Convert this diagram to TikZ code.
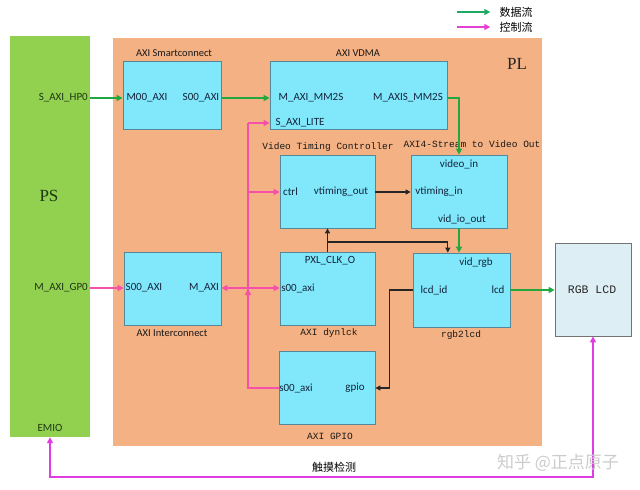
\documentclass[tikz,border=0pt]{standalone}
\usepackage{fontspec}
\setmainfont{Liberation Serif}
\newfontfamily\calfont{Carlito}
\newfontfamily\monofont{Liberation Mono}
\newfontfamily\cjkfont{Noto Sans CJK SC}
\usetikzlibrary{arrows.meta,shadows,calc}
\definecolor{psgreen}{RGB}{146,208,80}
\definecolor{plorange}{RGB}{244,177,131}
\definecolor{boxcyan}{RGB}{128,232,250}
\definecolor{boxedge}{RGB}{85,135,155}
\definecolor{dgreen}{RGB}{34,168,64}
\definecolor{lgreen}{RGB}{30,170,100}
\definecolor{cpink}{RGB}{245,80,170}
\definecolor{cmag}{RGB}{225,60,225}
\definecolor{labeldark}{RGB}{20,35,60}
\definecolor{psdark}{RGB}{30,55,20}
\definecolor{lcdfill}{RGB}{222,238,245}
\begin{document}
\begin{tikzpicture}[x=1pt,y=-1pt,
  fbox/.style={draw=boxedge, line width=0.8pt, fill=boxcyan, inner sep=0pt,
    drop shadow={shadow xshift=1.3pt, shadow yshift=-1.3pt, fill=black, opacity=0.35}},
  port/.style={font=\calfont\fontsize{11}{13}\selectfont, text=labeldark, inner sep=0pt},
  pslab/.style={font=\calfont\fontsize{11}{13}\selectfont, text=psdark, inner sep=0pt},
  title/.style={font=\calfont\fontsize{10.5}{12}\selectfont, text=black!90, inner sep=0pt},
  mtitle/.style={font=\monofont\fontsize{9.5}{11}\selectfont, text=black!90, inner sep=0pt},
  big/.style={font=\fontsize{17}{19}\selectfont, inner sep=0pt},
  cjk/.style={font=\cjkfont\fontsize{11}{13}\selectfont, inner sep=0pt},
  garr/.style={draw=dgreen, line width=1.8pt, -{Triangle[length=6pt,width=6pt]}},
  pline/.style={draw=cpink, line width=1.4pt},
  parr/.style={pline, -{Triangle[length=6pt,width=6pt]}},
  pdbl/.style={pline, {Triangle[length=6pt,width=6pt]}-{Triangle[length=6pt,width=6pt]}},
  barr/.style={draw=black!85, line width=1.1pt, -{Triangle[length=5pt,width=5pt]}},
  marr/.style={draw=cmag, line width=1.8pt, {Triangle[length=6pt,width=6pt]}-{Triangle[length=6pt,width=6pt]}}
]
\fill[white] (0,0) rectangle (640,490);
\useasboundingbox (0,0) rectangle (640,490);

% big regions
\node[fill=psgreen, minimum width=80pt, minimum height=401pt, inner sep=0pt] (ps) at (50,236.5) {};
\node[fill=plorange, minimum width=429pt, minimum height=408pt, inner sep=0pt] (pl) at (327.5,242) {};
\node[big, text=psdark] (pstext) at (49,196) {PS};
\node[big, text=black!85] (pltext) at (517,64) {PL};

% PS ports
\node[pslab, anchor=east] (hp0) at (88,98) {S\_AXI\_HP0};
\node[pslab, anchor=east] (gp0) at (88,288) {M\_AXI\_GP0};
\node[pslab] (emio) at (50,428) {EMIO};

% boxes
\node[fbox, minimum width=98pt, minimum height=68pt] (sc) at (172,95) {};
\node[fbox, minimum width=177pt, minimum height=68pt] (vdma) at (358.5,95) {};
\node[fbox, minimum width=95pt, minimum height=73pt] (vtc) at (327.5,191.5) {};
\node[fbox, minimum width=96pt, minimum height=73pt] (a2v) at (459,191.5) {};
\node[fbox, minimum width=97pt, minimum height=73pt] (ic) at (172.5,288.5) {};
\node[fbox, minimum width=95pt, minimum height=73pt] (dclk) at (327.5,288.5) {};
\node[fbox, minimum width=97pt, minimum height=74pt] (r2l) at (461.5,290) {};
\node[fbox, minimum width=96pt, minimum height=73pt] (gpio) at (327,387.5) {};
\node[draw=black!55, line width=0.8pt, fill=lcdfill, minimum width=76pt, minimum height=93pt, inner sep=0pt] (lcd) at (593,289.5) {};

% titles
\node[title] (sct) at (174,53) {AXI Smartconnect};
\node[title] (vdmat) at (358,53) {AXI VDMA};
\node[mtitle] (vtct) at (328,147) {Video Timing Controller};
\node[mtitle] (a2vt) at (472,144) {AXI4-Stream to Video Out};
\node[title] (ict) at (172,333) {AXI Interconnect};
\node[mtitle] (dclkt) at (329,333) {AXI dynlck};
\node[mtitle] (r2lt) at (461,335) {rgb2lcd};
\node[mtitle] (gpiot) at (330,436) {AXI GPIO};
\node[font=\monofont\fontsize{11.5}{13}\selectfont, text=black!85, inner sep=0pt] (lcdt) at (592,290) {RGB LCD};

% ports
\node[port] (scM) at (147,98) {M00\_AXI};
\node[port] (scS) at (201,98) {S00\_AXI};
\node[port] (vmm) at (311,98) {M\_AXI\_MM2S};
\node[port] (vmms) at (408,98) {M\_AXIS\_MM2S};
\node[port] (vlite) at (300,123) {S\_AXI\_LITE};
\node[port] (ctrl) at (290.5,192) {ctrl};
\node[port] (vto) at (341,192) {vtiming\_out};
\node[port] (vin) at (459,164) {video\_in};
\node[port] (vti) at (439,192) {vtiming\_in};
\node[port] (vio) at (462,219) {vid\_io\_out};
\node[port] (icS) at (144,288) {S00\_AXI};
\node[port] (icM) at (204,288) {M\_AXI};
\node[port] (pxl) at (330,261) {PXL\_CLK\_O};
\node[port] (ds00) at (298,288) {s00\_axi};
\node[port] (vrgb) at (476,263) {vid\_rgb};
\node[port] (lid) at (434,290) {lcd\_id};
\node[port] (llcd) at (498,290) {lcd};
\node[port] (gs00) at (296,388) {s00\_axi};
\node[port] (ggp) at (355,388) {gpio};

% data flow (green)
\draw[garr] (ps.east |- hp0) -- (sc.west |- hp0);
\draw[garr] (sc.east |- scS) -- (vdma.west |- scS);
\draw[garr] (vdma.east |- vmms) -| (a2v.north);
\draw[garr] (a2v.south) -- (a2v.south |- r2l.north);
\draw[garr] (r2l.east |- llcd) -- (lcd.west |- llcd);

% black signals
\draw[barr] (vtc.east |- vto) -- (a2v.west |- vto);
\draw[barr] (dclk.north) -- (vtc.south);
\coordinate (clkj) at (327.5,242);
\coordinate (clkt) at ($(r2l.north west)!0.36!(r2l.north east)$);
\draw[barr] (clkj) -| (clkt);
\draw[barr] (r2l.west |- lid) -- ++(-23,0) |- (gpio.east |- ggp);

% control flow (pink)
\draw[parr] (ps.east |- gp0) -- (ic.west |- gp0);
\draw[pdbl] (ic.east |- icM) -- (dclk.west |- icM);
\coordinate (bustop) at (248,123);
\draw[parr] (bustop) -- (vdma.west |- bustop);
\draw[pline] (bustop) |- (gpio.west |- gs00);
\draw[parr] (bustop |- ctrl) -- (vtc.west |- ctrl);
\draw[parr] ($(bustop |- icM)+(0,8)$) -- ($(bustop |- icM)+(0,1)$);

% touch detection
\draw[marr] (ps.south) -- ++(0,40) -| (lcd.south);
\node[cjk] (touch) at (334,467) {触摸检测};

% legend
\node[cjk] (lg1t) at (516,12) {数据流};
\node[cjk] (lg2t) at (516,27) {控制流};
\draw[draw=lgreen, line width=1.6pt, -{Triangle[length=6pt,width=6pt]}] ($(lg1t.west)+(-42,0)$) -- ($(lg1t.west)+(-9,0)$);
\draw[draw=cmag!80!cpink, line width=1.6pt, -{Triangle[length=6pt,width=6pt]}] ($(lg2t.west)+(-42,0)$) -- ($(lg2t.west)+(-9,0)$);

% watermark
\node[font=\cjkfont\fontsize{17}{19}\selectfont, text=black!20, inner sep=0pt] (wm) at (558,463) {知乎 @正点原子};
\end{tikzpicture}
\end{document}
